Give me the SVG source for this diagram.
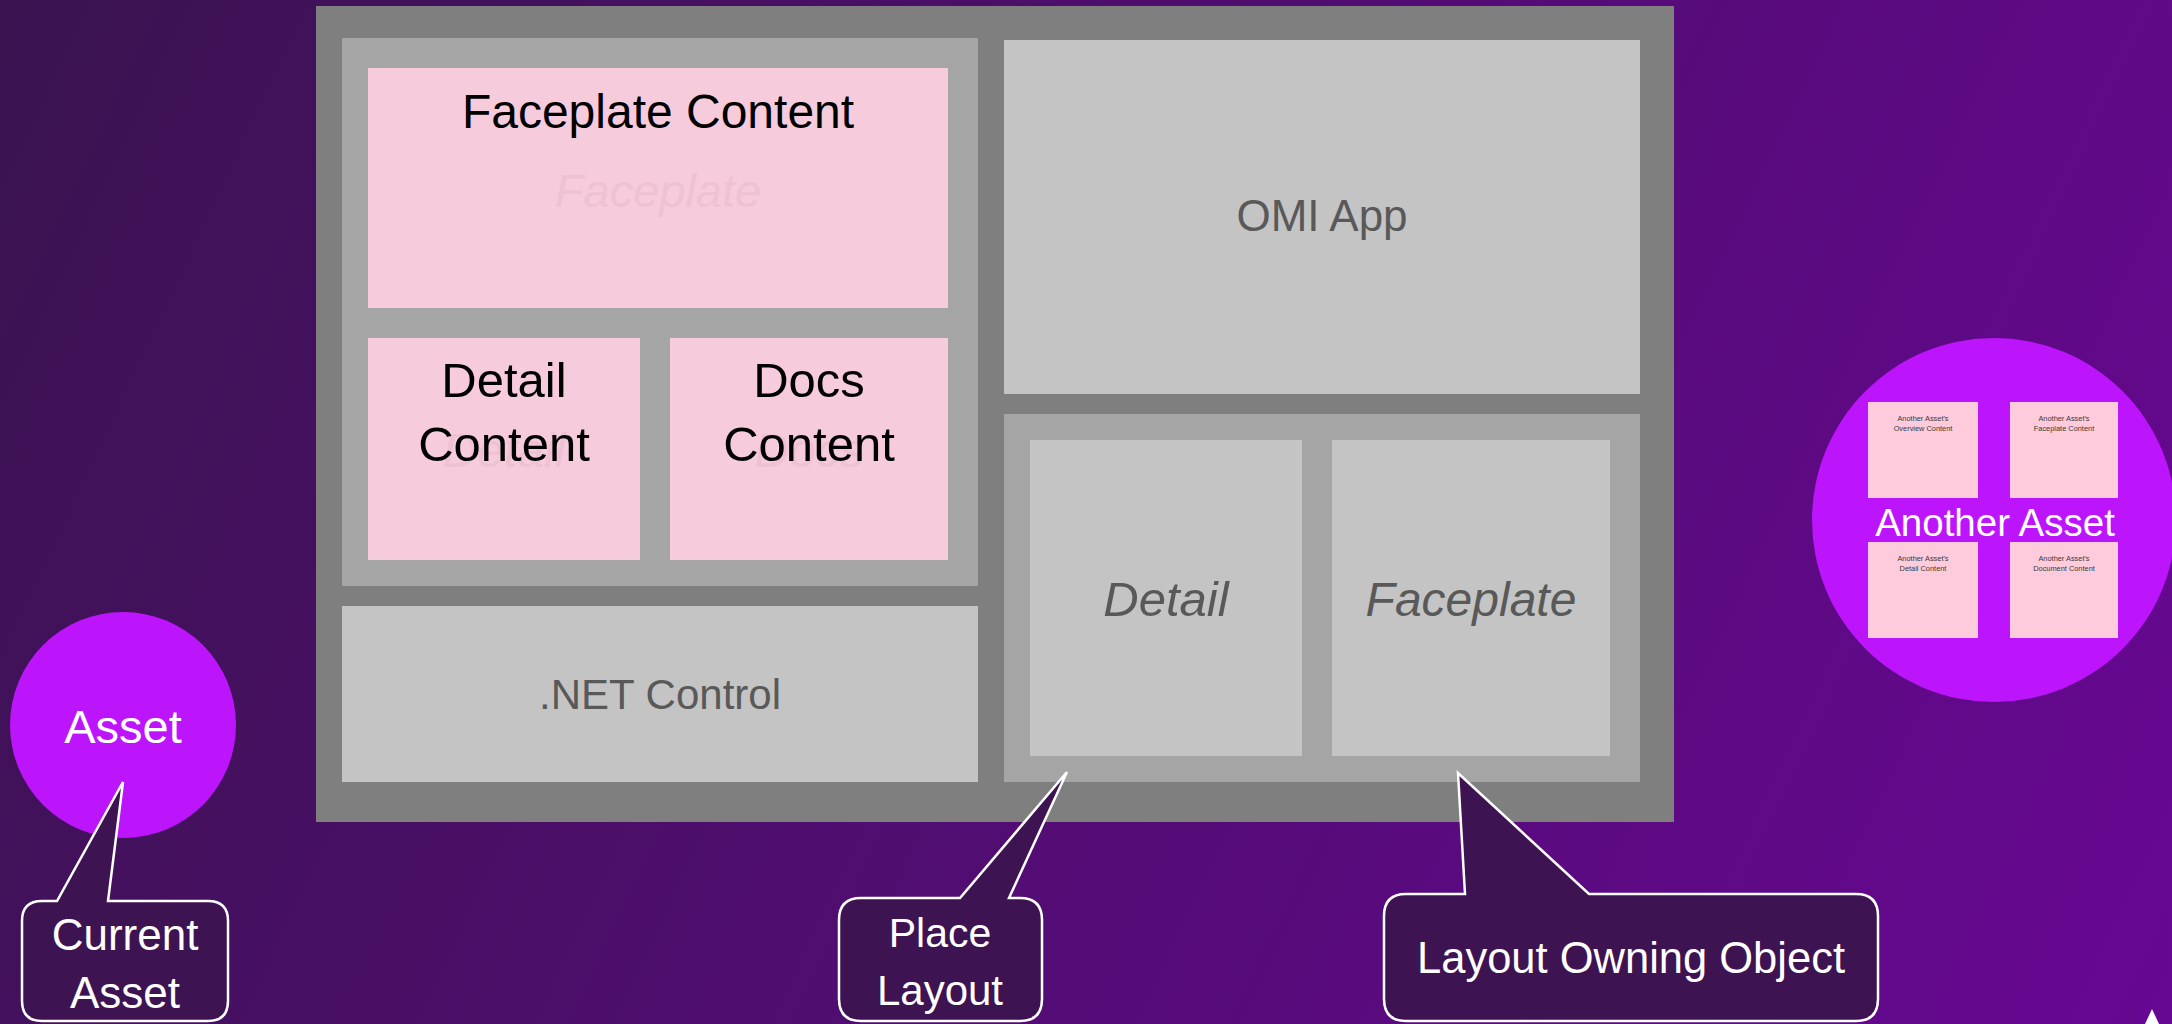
<svg xmlns="http://www.w3.org/2000/svg" width="2172" height="1024" viewBox="0 0 2172 1024">
  <defs>
    <linearGradient id="bg" x1="0" y1="0" x2="2172" y2="1024" gradientUnits="userSpaceOnUse">
      <stop offset="0" stop-color="#3a1350"/>
      <stop offset="1" stop-color="#670792"/>
    </linearGradient>
  </defs>
  <style>
    .outer { fill: #7f7f7f; }
    .panel { fill: #a5a5a5; }
    .box { fill: #c4c4c4; }
    .pink { fill: #f6cbdb; }
    .spink { fill: #fdcbdb; }
    .asset { fill: #bd15fb; }
    .callout { fill: #3e1352; stroke: #ffffff; stroke-width: 2.5; stroke-linejoin: miter; }
    text { font-family: "Liberation Sans", Arial, sans-serif; text-anchor: middle; }
    .blk { fill: #000000; }
    .gry { fill: #595959; }
    .wht { fill: #ffffff; }
    .faint { fill: #eec2d2; font-style: italic; }
    .ital { font-style: italic; }
    .tiny { fill: #3a3a3a; font-size: 7.4px; }
  </style>
  <rect x="0" y="0" width="2172" height="1024" fill="url(#bg)"/>

  <g id="app-frame">
    <rect class="outer" x="316" y="6" width="1358" height="816"/>
  </g>

  <g id="left-panel">
    <rect class="panel" x="342" y="38" width="636" height="548"/>
  </g>

  <g id="faceplate-content">
    <rect class="pink" x="368" y="68" width="580" height="240"/>
    <text class="faint" x="658" y="207" font-size="47">Faceplate</text>
    <text class="blk" x="658" y="128" font-size="48">Faceplate Content</text>
  </g>

  <g id="detail-content">
    <rect class="pink" x="368" y="338" width="272" height="222"/>
    <text class="faint" x="504" y="467" font-size="48">Detail</text>
    <text class="blk" x="504" y="397" font-size="49">Detail</text>
    <text class="blk" x="504" y="461" font-size="49">Content</text>
  </g>

  <g id="docs-content">
    <rect class="pink" x="670" y="338" width="278" height="222"/>
    <text class="faint" x="809" y="467" font-size="48">Docs</text>
    <text class="blk" x="809" y="397" font-size="49">Docs</text>
    <text class="blk" x="809" y="461" font-size="49">Content</text>
  </g>

  <g id="net-control">
    <rect class="box" x="342" y="606" width="636" height="176"/>
    <text class="gry" x="660" y="709" font-size="42">.NET Control</text>
  </g>

  <g id="omi-app">
    <rect class="box" x="1004" y="40" width="636" height="354"/>
    <text class="gry" x="1322" y="231" font-size="44">OMI App</text>
  </g>

  <g id="place-layout-panel">
    <rect class="panel" x="1004" y="414" width="636" height="368"/>
  </g>

  <g id="detail">
    <rect class="box" x="1030" y="440" width="272" height="316"/>
    <text class="gry ital" x="1166" y="616" font-size="49">Detail</text>
  </g>

  <g id="faceplate">
    <rect class="box" x="1332" y="440" width="278" height="316"/>
    <text class="gry ital" x="1471" y="616" font-size="48">Faceplate</text>
  </g>

  <g id="asset">
    <circle class="asset" cx="123" cy="725" r="113"/>
    <text class="wht" x="123" y="743" font-size="47">Asset</text>
  </g>

  <g id="another-asset">
    <circle class="asset" cx="1994" cy="520" r="182"/>
    <rect class="spink" x="1868" y="402" width="110" height="96"/>
    <rect class="spink" x="2010" y="402" width="108" height="96"/>
    <rect class="spink" x="1868" y="542" width="110" height="96"/>
    <rect class="spink" x="2010" y="542" width="108" height="96"/>
    <text class="tiny" x="1923" y="421">Another Asset's</text>
    <text class="tiny" x="1923" y="431">Overview Content</text>
    <text class="tiny" x="2064" y="421">Another Asset's</text>
    <text class="tiny" x="2064" y="431">Faceplate Content</text>
    <text class="tiny" x="1923" y="561">Another Asset's</text>
    <text class="tiny" x="1923" y="571">Detail Content</text>
    <text class="tiny" x="2064" y="561">Another Asset's</text>
    <text class="tiny" x="2064" y="571">Document Content</text>
    <text class="wht" x="1995" y="536" font-size="38.5">Another Asset</text>
  </g>

  <g id="connectors">
    <g id="current-asset-callout">
      <path class="callout" d="M 42 901 L 57 901 L 123 782 L 108 901 L 208 901 Q 228 901 228 921 L 228 1001 Q 228 1021 208 1021 L 42 1021 Q 22 1021 22 1001 L 22 921 Q 22 901 42 901 Z"/>
      <text class="wht" x="125" y="950" font-size="44">Current</text>
      <text class="wht" x="125" y="1008" font-size="44">Asset</text>
    </g>
    <g id="place-layout-callout">
      <path class="callout" d="M 861 898 L 960 898 L 1067 772 L 1009 898 L 1020 898 Q 1042 898 1042 920 L 1042 999 Q 1042 1021 1020 1021 L 861 1021 Q 839 1021 839 999 L 839 920 Q 839 898 861 898 Z"/>
      <text class="wht" x="940" y="947" font-size="41">Place</text>
      <text class="wht" x="940" y="1005" font-size="42">Layout</text>
    </g>
    <g id="layout-owning-object-callout">
      <path class="callout" d="M 1406 894 L 1465 894 L 1458 773 L 1589 894 L 1856 894 Q 1878 894 1878 916 L 1878 999 Q 1878 1021 1856 1021 L 1406 1021 Q 1384 1021 1384 999 L 1384 916 Q 1384 894 1406 894 Z"/>
      <text class="wht" x="1631" y="973" font-size="43.5">Layout Owning Object</text>
    </g>
  </g>

  <polygon points="2152,1009 2145,1024 2159,1024" fill="#ffffff"/>
</svg>
